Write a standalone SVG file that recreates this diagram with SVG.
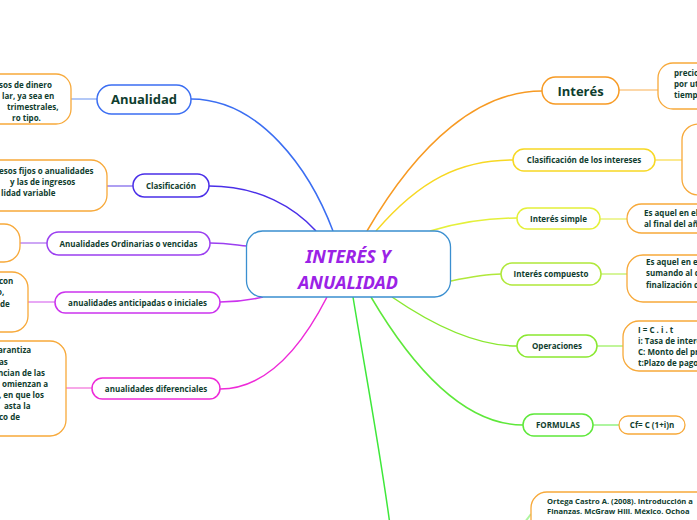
<svg xmlns="http://www.w3.org/2000/svg" width="697" height="520" viewBox="0 0 697 520">
<style>
.t{font-family:"Open Sans","Noto Sans",sans-serif;font-weight:700;fill:#0f3d2e;font-size:8px}
.c{text-anchor:middle}
.big{font-size:13px}
.ref{font-size:7.6px}
.node{fill:#fff;stroke-width:1.5}
.det{fill:#fff;stroke:#f7a93a;stroke-width:1.3}
.title{font-family:"Noto Sans","Open Sans",sans-serif;font-weight:700;font-style:italic;font-size:18px;fill:#9b22e6;text-anchor:middle}
.conn path{fill:none;stroke-width:1.5}
.sub path{fill:none;stroke-width:2}
</style>
<rect width="697" height="520" fill="#fff"/>
<g id="connectors">
<g class="conn">
<path d="M191,99 C260,99 310,170 333,231" stroke="#3b6ef2"/>
<path d="M209,186 C260,186 295,208 316,231" stroke="#4a2fe8"/>
<path d="M210,243 C228,243 236,245 247,246" stroke="#9b3ff0"/>
<path d="M220,302 C240,302 250,300 263,297" stroke="#cc33ee"/>
<path d="M220,389 C270,389 305,340 327,297" stroke="#ee2ad8"/>
<path d="M353,297 C365,370 380,450 390,525" stroke="#3ee83a" stroke-width="2"/>
<path d="M371,297 C420,380 470,425 523,425" stroke="#5ee83a"/>
<path d="M392,297 C440,330 480,346 517,346" stroke="#8ae830"/>
<path d="M451,281 C470,277 485,274 501,274" stroke="#b0e83a"/>
<path d="M430,231 C460,222 490,218 517,218" stroke="#e4f03a"/>
<path d="M376,231 C420,180 460,160 513,160" stroke="#f7d823"/>
<path d="M367,231 C420,140 480,91 542,91" stroke="#f79a23"/>
</g>
<g class="sub">
<path d="M71,99 L97,99" stroke="#b3c8f7"/>
<path d="M107,186 L133,186" stroke="#ae9ff2"/>
<path d="M20,243 L47,243" stroke="#cda6f5"/>
<path d="M28,302 L55,302" stroke="#e8a8f5"/>
<path d="M66,388 L92,388" stroke="#f7a8e8"/>
<path d="M619,90 L658,90" stroke="#fcd7a8"/>
<path d="M655,160 L682,160" stroke="#fbe98f"/>
<path d="M600,219 L627,219" stroke="#eef59a"/>
<path d="M601,274 L627,274" stroke="#d6f59a"/>
<path d="M597,346 L623,346" stroke="#c0f59a"/>
<path d="M593,425 L619,425" stroke="#aef5a0"/>
<path d="M522,526 L531,514" stroke="#aef5a0"/>
</g>
</g>
<g id="center">
<rect x="246.5" y="231" width="204" height="66" rx="16" fill="#fff" stroke="#3a8fd0" stroke-width="1.3"/>
<text class="title" x="348" y="263">INTERÉS Y</text>
<text class="title" x="348" y="289">ANUALIDAD</text>
</g>
<g id="anualidad">
<rect class="node" x="97" y="85" width="94" height="29" rx="14.5" stroke="#3b6ef2"/>
<text class="t c big" x="144" y="104">Anualidad</text>
</g>
<g id="anualidad-def">
<rect class="det" x="-30" y="74" width="101" height="50" rx="15"/>
<text class="t" x="-1" y="88">sos de dinero</text>
<text class="t" x="2" y="99">lar, ya sea en</text>
<text class="t" x="7" y="110">trimestrales,</text>
<text class="t" x="12" y="121">ro tipo.</text>
</g>
<g id="clasificacion">
<rect class="node" x="133" y="174" width="76" height="23" rx="11.5" stroke="#4a2fe8"/>
<text class="t c" x="171" y="189">Clasificación</text>
</g>
<g id="clasificacion-def">
<rect class="det" x="-30" y="160" width="137" height="51" rx="16"/>
<text class="t" x="-1" y="174">esos fijos o anualidades</text>
<text class="t" x="10" y="185">y las de ingresos</text>
<text class="t" x="1" y="196">lidad variable</text>
</g>
<g id="ordinarias">
<rect class="node" x="47" y="232" width="163" height="23" rx="11.5" stroke="#9b3ff0"/>
<text class="t c" x="128.5" y="247">Anualidades Ordinarias o vencidas</text>
</g>
<g id="ordinarias-def">
<rect class="det" x="-30" y="224" width="50" height="38" rx="16"/>
</g>
<g id="anticipadas">
<rect class="node" x="55" y="292" width="165" height="21" rx="10.5" stroke="#cc33ee"/>
<text class="t c" x="137.5" y="306">anualidades anticipadas o iniciales</text>
</g>
<g id="anticipadas-def">
<rect class="det" x="-30" y="272" width="58" height="60" rx="16"/>
<text class="t" x="-1" y="284">con</text>
<text class="t" x="-3" y="295">o,</text>
<text class="t" x="0" y="307">de</text>
</g>
<g id="diferenciales">
<rect class="node" x="92" y="378" width="128" height="21" rx="10.5" stroke="#ee2ad8"/>
<text class="t c" x="156" y="392">anualidades diferenciales</text>
</g>
<g id="diferenciales-def">
<rect class="det" x="-30" y="341" width="96" height="95" rx="16"/>
<text class="t" x="-2" y="353">arantiza</text>
<text class="t" x="-1" y="365">as</text>
<text class="t" x="-2" y="376">ncian de las</text>
<text class="t" x="2" y="387">omienzan a</text>
<text class="t" x="-1" y="398">, en que los</text>
<text class="t" x="4" y="409">asta la</text>
<text class="t" x="-1" y="420">co de</text>
</g>
<g id="interes">
<rect class="node" x="542" y="77" width="77" height="27" rx="13.5" stroke="#f79a23"/>
<text class="t c big" x="580.5" y="96">Interés</text>
</g>
<g id="interes-def">
<rect class="det" x="658" y="63" width="80" height="46" rx="15"/>
<text class="t" x="674" y="76">precio</text>
<text class="t" x="674" y="87">por ut</text>
<text class="t" x="674" y="98">tiempo</text>
</g>
<g id="clasif-intereses">
<rect class="node" x="513" y="149" width="142" height="22" rx="11" stroke="#f7d823"/>
<text class="t c" x="584" y="163">Clasificación de los intereses</text>
</g>
<g id="clasif-intereses-def">
<rect class="det" x="682" y="124" width="60" height="71" rx="16"/>
</g>
<g id="simple">
<rect class="node" x="517" y="208" width="83" height="21" rx="10.5" stroke="#e4f03a"/>
<text class="t c" x="558.5" y="222">Interés simple</text>
</g>
<g id="simple-def">
<rect class="det" x="627" y="204" width="100" height="29" rx="14.5"/>
<text class="t" x="644" y="216">Es aquel en el</text>
<text class="t" x="644" y="227">al final del año</text>
</g>
<g id="compuesto">
<rect class="node" x="501" y="263" width="100" height="22" rx="11" stroke="#b0e83a"/>
<text class="t c" x="551" y="277">Interés compuesto</text>
</g>
<g id="compuesto-def">
<rect class="det" x="627" y="255" width="100" height="47" rx="16"/>
<text class="t" x="646" y="265">Es aquel en el</text>
<text class="t" x="646" y="276">sumando  al c</text>
<text class="t" x="646" y="288">finalización d</text>
</g>
<g id="operaciones">
<rect class="node" x="517" y="335" width="80" height="22" rx="11" stroke="#8ae830"/>
<text class="t c" x="557" y="349">Operaciones</text>
</g>
<g id="operaciones-def">
<rect class="det" x="623" y="321" width="100" height="50" rx="16"/>
<text class="t" x="638" y="333">I = C . i . t</text>
<text class="t" x="638" y="344">i: Tasa de interés</text>
<text class="t" x="638" y="355">C: Monto del préstamo</text>
<text class="t" x="638" y="366">t:Plazo de pago</text>
</g>
<g id="formulas">
<rect class="node" x="523" y="414" width="70" height="22" rx="11" stroke="#5ee83a"/>
<text class="t c" x="558" y="428">FORMULAS</text>
</g>
<g id="formulas-def">
<rect class="det" x="619" y="416" width="66" height="18" rx="9"/>
<text class="t c" x="652" y="428">Cf= C (1+i)n</text>
</g>
<g id="referencias">
<rect class="det" x="531" y="492" width="200" height="60" rx="16"/>
<text class="t ref" x="547" y="503.5">Ortega Castro A. (2008). Introducción a</text>
<text class="t ref" x="547" y="513.5">Finanzas. McGraw Hill. México. Ochoa</text>
</g>
</svg>
